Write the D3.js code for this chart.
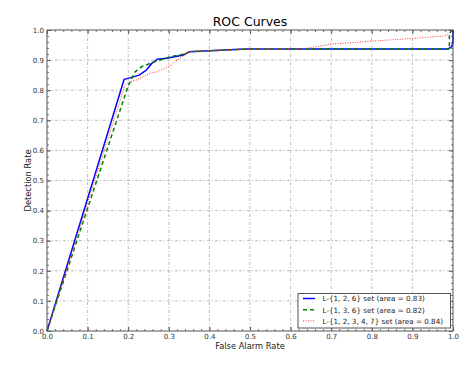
<!DOCTYPE html>
<html><head><meta charset="utf-8">
<script src="https://cdn.jsdelivr.net/npm/d3@7"></script>
<style>
html,body{margin:0;padding:0;background:#fff;}
svg{display:block;font-family:"DejaVu Sans",sans-serif;}
</style></head>
<body><svg id="c" width="472" height="375"></svg>
<script>
const ticks = [0,0.1,0.2,0.3,0.4,0.5,0.6,0.7,0.8,0.9,1.0];
const blueX = [0,0.19,0.204,0.227,0.245,0.258,0.272,0.295,0.336,0.352,0.40,0.475,0.5,0.988,0.997,1.0,1.0];
const blueY = [0,0.836,0.841,0.85,0.867,0.889,0.903,0.906,0.917,0.928,0.931,0.936,0.937,0.937,0.945,0.96,1.0];
const greenX = [0,0.2,0.217,0.233,0.254,0.266,0.303,0.328,0.352,0.40,0.5,0.991,0.991,1.0];
const greenY = [0,0.815,0.861,0.878,0.889,0.895,0.911,0.917,0.928,0.931,0.937,0.937,0.99,1.0];
const redX = [0,0.192,0.204,0.221,0.237,0.254,0.27,0.291,0.307,0.315,0.328,0.34,0.352,0.40,0.5,0.63,0.70,0.80,0.90,0.98,1.0];
const redY = [0,0.817,0.828,0.834,0.845,0.856,0.861,0.873,0.884,0.895,0.906,0.92,0.928,0.931,0.937,0.937,0.953,0.963,0.972,0.98,1.0];
const labels = ["L-{1, 2, 6} set (area = 0.83)","L-{1, 3, 6} set (area = 0.82)","L-{1, 2, 3, 4, 7} set (area = 0.84)"];

const svg = d3.select("#c");
const L=47,R=453,T=30,B=331;
const x = d3.scaleLinear().domain([0,1]).range([L,R]);
const y = d3.scaleLinear().domain([0,1]).range([B,T]);

// grid
const g = svg.append("g");
ticks.slice(1,-1).forEach(t=>{
  g.append("line").attr("x1",x(t)).attr("x2",x(t)).attr("y1",T).attr("y2",B)
   .attr("stroke","#aaa").attr("stroke-width",0.8).attr("stroke-dasharray","3,2,1,2");
  g.append("line").attr("y1",y(t)).attr("y2",y(t)).attr("x1",L).attr("x2",R)
   .attr("stroke","#aaa").attr("stroke-width",0.8).attr("stroke-dasharray","3,2,1,2");
});

// axes with inward ticks
const minor = d3.range(0,51).map(i=>i/50);
function addAxis(gen, tr, minorGen){
  const a = svg.append("g").attr("transform",tr).call(gen);
  a.select(".domain").remove();
  a.selectAll("text").attr("font-size",7).attr("fill","#333").attr("font-family","DejaVu Sans");
  a.selectAll("line").attr("stroke","#555");
  const m = svg.append("g").attr("transform",tr).call(minorGen);
  m.select(".domain").remove();
  m.selectAll("text").remove();
  m.selectAll("line").attr("stroke","#777");
  return a;
}
addAxis(d3.axisBottom(x).tickValues(ticks).tickFormat(d3.format(".1f")).tickSizeInner(-4).tickPadding(3),
  `translate(0,${B})`, d3.axisBottom(x).tickValues(minor).tickSizeInner(-2));
addAxis(d3.axisTop(x).tickValues(ticks).tickFormat("").tickSizeInner(-4),
  `translate(0,${T})`, d3.axisTop(x).tickValues(minor).tickSizeInner(-2));
addAxis(d3.axisLeft(y).tickValues(ticks).tickFormat(d3.format(".1f")).tickSizeInner(-4).tickPadding(3),
  `translate(${L},0)`, d3.axisLeft(y).tickValues(minor).tickSizeInner(-2));
addAxis(d3.axisRight(y).tickValues(ticks).tickFormat("").tickSizeInner(-4),
  `translate(${R},0)`, d3.axisRight(y).tickValues(minor).tickSizeInner(-2));

// curves (drawn in plotting order: blue, green, red)
const line = d3.line().x(d=>x(d[0])).y(d=>y(d[1]));
const series = [
  {xs:blueX, ys:blueY, color:"#0000ff", dash:null, w:1.5},
  {xs:greenX, ys:greenY, color:"#008000", dash:"4,3", w:1.5},
  {xs:redX, ys:redY, color:"#ff3333", dash:"1,1.5", w:1}
];
svg.append("clipPath").attr("id","pc").append("rect").attr("x",L-1).attr("y",T-1).attr("width",R-L+2).attr("height",B-T+2);
series.forEach(s=>{
  svg.append("path").datum(s.xs.map((v,i)=>[v,s.ys[i]])).attr("d",line)
    .attr("fill","none").attr("stroke",s.color).attr("stroke-width",s.w)
    .attr("stroke-dasharray",s.dash).attr("clip-path","url(#pc)");
});

// frame
svg.append("rect").attr("x",L).attr("y",T).attr("width",R-L).attr("height",B-T)
  .attr("fill","none").attr("stroke","#555").attr("stroke-width",1);

// title & labels
svg.append("text").attr("x",(L+R)/2).attr("y",26).attr("text-anchor","middle")
  .attr("font-size",12.5).attr("fill","#000").text("ROC Curves");
svg.append("text").attr("x",(L+R)/2).attr("y",349).attr("text-anchor","middle")
  .attr("font-size",8.3).attr("fill","#222").text("False Alarm Rate");
svg.append("text").attr("transform",`translate(31,${(T+B)/2}) rotate(-90)`).attr("text-anchor","middle")
  .attr("font-size",8.3).attr("fill","#222").text("Detection Rate");

// legend
const lg = svg.append("g");
lg.append("rect").attr("x",298).attr("y",293.5).attr("width",152.5).attr("height",34.5)
  .attr("fill","#fff").attr("stroke","#555").attr("stroke-width",1);
labels.forEach((t,i)=>{
  const yy = 298.5 + i*11.2;
  const s = series[i];
  lg.append("line").attr("x1",303).attr("x2",315).attr("y1",yy).attr("y2",yy)
    .attr("stroke",s.color).attr("stroke-width",s.w).attr("stroke-dasharray",s.dash);
  lg.append("text").attr("x",322.5).attr("y",yy+2.8).attr("font-size",7.2).attr("fill","#222").text(t);
});
</script></body></html>
